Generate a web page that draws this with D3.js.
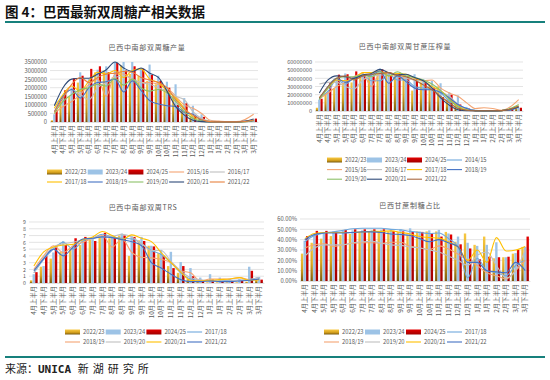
<!DOCTYPE html>
<html><head><meta charset="utf-8">
<script src="https://cdn.jsdelivr.net/npm/d3@7"></script>
<style>
body{margin:0;background:#fff}
svg{display:block}
text{font-family:"Noto Sans CJK SC","Noto Sans",sans-serif}
</style>
</head><body>
<svg id="c" width="550" height="380"></svg>
<script>
// ---------- categories ----------
const categories = ["4月上半月","4月下半月","5月上半月","5月下半月","6月上半月","6月下半月","7月上半月","7月下半月","8月上半月","8月下半月","9月上半月","9月下半月","10月上半月","10月下半月","11月上半月","11月下半月","12月上半月","12月下半月","1月上半月","1月下半月","2月上半月","2月下半月","3月上半月","3月下半月"];

// ---------- Panel 1: 巴西中南部双周糖产量 (吨) ----------
const sugar_2022_23 = [100000,1200000,1500000,2300000,2000000,2900000,3000000,2600000,3300000,2800000,2700000,2400000,2200000,1900000,1600000,800000,350000,100000,30000,20000,10000,10000,30000,120000];
const sugar_2023_24 = [450000,1500000,2000000,2900000,2500000,3050000,3250000,3500000,3500000,3500000,3150000,3350000,2700000,2350000,2200000,1400000,950000,450000,50000,20000,10000,10000,50000,150000];
const sugar_2024_25 = [700000,1850000,2550000,2700000,3100000,3250000,2900000,3450000,3000000,3250000,3100000,2750000,2400000,2000000,1000000,1100000,350000,300000,20000,10000,10000,10000,30000,200000];
const sugar_2015_16 = [500000,900000,1200000,1600000,2200000,2500000,1500000,2800000,2800000,2500000,2300000,2300000,2200000,2000000,1500000,1000000,800000,500000,100000,50000,20000,20000,150000,450000];
const sugar_2016_17 = [1000000,1500000,1900000,1600000,1300000,2000000,2300000,2600000,2700000,2500000,2300000,2200000,2000000,1800000,1500000,1300000,600000,200000,50000,20000,10000,10000,30000,100000];
const sugar_2017_18 = [800000,1600000,2100000,1800000,2400000,2900000,2800000,3000000,2600000,3000000,3100000,2500000,2300000,1800000,1400000,800000,300000,100000,20000,10000,10000,10000,20000,80000];
const sugar_2018_19 = [600000,1500000,1900000,1400000,2000000,2300000,2350000,2500000,1750000,2400000,1850000,1250000,1050000,950000,900000,550000,450000,100000,20000,10000,10000,10000,20000,80000];
const sugar_2019_20 = [500000,1200000,1600000,1900000,2000000,2200000,2100000,2550000,2150000,2500000,2000000,1800000,1900000,1700000,1200000,600000,200000,50000,10000,10000,10000,10000,20000,100000];
const sugar_2020_21 = [950000,2000000,2500000,2550000,2550000,2800000,3050000,3500000,3150000,2950000,3150000,2850000,2600000,1800000,900000,400000,100000,20000,10000,10000,10000,10000,50000,180000];
const sugar_2021_22 = [600000,1400000,2200000,2600000,2300000,2600000,2800000,2850000,2950000,2900000,2600000,2450000,2300000,2000000,1300000,750000,400000,150000,20000,10000,10000,10000,30000,120000];
const sugarTicks = [0,500000,1000000,1500000,2000000,2500000,3000000,3500000];

// ---------- Panel 2: 巴西中南部双周甘蔗压榨量 (吨) ----------
const cane_2022_23 = [4000000,22000000,28000000,33000000,35000000,44000000,45000000,46000000,49000000,46000000,44000000,25000000,35000000,31000000,30000000,14000000,8000000,2000000,500000,300000,300000,500000,2000000,6000000];
const cane_2023_24 = [14000000,25000000,38000000,46000000,40000000,47000000,46000000,52000000,47000000,47000000,42000000,45000000,39000000,37000000,34000000,23000000,19000000,5000000,1000000,500000,300000,500000,2000000,4000000];
const cane_2024_25 = [15000000,34000000,44500000,45000000,48500000,44000000,43000000,51000000,44000000,46000000,43000000,40000000,35000000,28000000,17000000,20000000,8000000,3000000,500000,300000,300000,500000,1500000,4000000];
const cane_2014_15 = [16000000,24000000,38000000,33000000,41000000,44000000,37000000,37000000,45000000,38000000,38000000,30000000,28000000,26000000,22000000,12000000,7000000,3000000,1000000,500000,300000,500000,2000000,5000000];
const cane_2015_16 = [15000000,22000000,30000000,35000000,42000000,46000000,30000000,46000000,47000000,43000000,40000000,38000000,37000000,38000000,28000000,22000000,18000000,10000000,3000000,4000000,3000000,1000000,5000000,14000000];
const cane_2016_17 = [33000000,35000000,35000000,30000000,27000000,38000000,42000000,44000000,44000000,42000000,40000000,38000000,36000000,30000000,24000000,18000000,8000000,2000000,500000,300000,300000,500000,2000000,5000000];
const cane_2017_18 = [16000000,28000000,38000000,37000000,39000000,47000000,47000000,49000000,43000000,46000000,45000000,40000000,37000000,30000000,25000000,15000000,6000000,1500000,500000,300000,300000,500000,2000000,6000000];
const cane_2018_19 = [15000000,30000000,40000000,35000000,40000000,43000000,44000000,49000000,34000000,43000000,36000000,28000000,26000000,26000000,23000000,16000000,8000000,3000000,500000,300000,300000,500000,1000000,5000000];
const cane_2019_20 = [14000000,28000000,40000000,42000000,42000000,44000000,42000000,48000000,43000000,48000000,43000000,41000000,38000000,33000000,25000000,14000000,5000000,1000000,500000,300000,300000,500000,3000000,8000000];
const cane_2020_21 = [22000000,38000000,43000000,42000000,40000000,44000000,46000000,51000000,47000000,44000000,45000000,41000000,37000000,28000000,16000000,7000000,1500000,300000,200000,200000,200000,500000,2000000,5000000];
const cane_2021_22 = [16000000,30000000,40000000,43000000,38000000,43000000,45000000,46000000,47000000,44000000,42000000,38000000,32000000,26000000,18000000,10000000,3000000,1000000,300000,300000,300000,500000,2000000,6000000];
const caneTicks = [0,10000000,20000000,30000000,40000000,50000000,60000000];

// ---------- Panel 3: 巴西中南部双周TRS ----------
const trs_2022_23 = [0.4,2.4,3.6,4.6,5.0,5.6,6.4,6.8,6.6,7.0,4.0,6.3,5.5,4.4,2.5,1.5,0.6,0.2,0.1,0.1,0.1,0.1,0.2,0.6];
const trs_2023_24 = [1.3,2.5,4.5,6.2,5.5,6.5,6.5,7.0,7.0,7.3,6.9,6.8,5.5,4.9,4.6,3.1,2.2,0.8,1.3,0.8,0.6,0.6,2.4,0.9];
const trs_2024_25 = [1.6,4.0,5.5,5.6,6.6,6.8,6.2,7.4,6.7,7.0,6.8,6.2,5.4,4.0,2.2,2.5,1.0,0.3,0.5,0.3,0.4,0.4,1.8,0.5];
const trs_2017_18 = [1.5,3.5,5.0,6.0,5.0,6.2,6.6,7.2,6.8,6.6,6.5,5.8,4.8,4.2,3.0,1.5,0.6,0.4,0.3,0.3,0.4,0.4,0.5,0.8];
const trs_2018_19 = [2.0,4.0,5.5,4.5,5.5,6.0,6.6,7.0,5.3,6.5,4.5,3.8,3.7,3.5,3.0,1.8,1.5,0.3,0.6,0.6,0.6,0.8,0.5,0.5];
const trs_2019_20 = [1.5,3.8,5.3,5.8,6.0,6.4,6.6,6.9,6.9,7.2,6.8,5.8,4.8,4.8,3.2,1.8,0.8,0.5,0.3,0.3,0.3,0.4,0.5,0.8];
const trs_2020_21 = [2.5,4.6,5.3,5.6,5.7,6.4,6.8,7.6,7.0,6.4,7.1,6.6,6.1,4.5,3.0,1.6,0.4,0.3,0.4,0.5,0.6,0.8,0.4,0.5];
const trs_2021_22 = [1.8,3.6,5.0,4.0,5.3,6.5,6.6,6.8,6.7,6.4,6.1,5.5,3.0,2.2,1.3,0.5,0.2,0.2,0.3,0.2,0.2,0.3,0.4,0.6];
const trsTicks = [0,1,2,3,4,5,6,7,8,9];

// ---------- Panel 4: 巴西甘蔗制糖占比 ----------
const mix_2022_23 = [0.265,0.37,0.41,0.435,0.445,0.455,0.47,0.475,0.48,0.48,0.475,0.45,0.48,0.48,0.48,0.475,0.38,0.46,0.35,0.43,0.22,0.23,0.265,0.33];
const mix_2023_24 = [0.39,0.45,0.47,0.48,0.485,0.49,0.49,0.49,0.495,0.50,0.50,0.51,0.48,0.49,0.495,0.46,0.43,0.37,0.34,0.35,0.375,0.23,0.27,0.33];
const mix_2024_25 = [0.435,0.485,0.485,0.48,0.495,0.50,0.50,0.50,0.50,0.485,0.48,0.475,0.475,0.46,0.43,0.45,0.355,0.315,0.21,0.235,0.23,0.235,0.30,0.43];
const mix_2017_18 = [0.38,0.44,0.465,0.475,0.49,0.505,0.51,0.51,0.51,0.50,0.495,0.48,0.47,0.46,0.465,0.41,0.33,0.03,0.22,0.10,0.08,0.05,0.15,0.20];
const mix_2018_19 = [0.32,0.35,0.36,0.335,0.35,0.365,0.37,0.37,0.365,0.375,0.375,0.335,0.32,0.305,0.34,0.31,0.26,0.20,0.15,0.08,0.05,0.02,0.10,0.20];
const mix_2019_20 = [0.24,0.32,0.35,0.35,0.35,0.37,0.38,0.385,0.365,0.35,0.345,0.33,0.32,0.30,0.28,0.24,0.20,0.15,0.25,0.28,0.15,0.03,0.10,0.30];
const mix_2020_21 = [0.41,0.46,0.47,0.47,0.47,0.47,0.475,0.48,0.48,0.485,0.47,0.455,0.43,0.42,0.415,0.38,0.33,0.20,0.30,0.18,0.42,0.29,0.30,0.335];
const mix_2021_22 = [0.40,0.45,0.465,0.465,0.465,0.47,0.475,0.475,0.47,0.455,0.45,0.44,0.41,0.38,0.40,0.37,0.33,0.18,0.18,0.10,0.09,0.08,0.18,0.10];
const mixTicks = [0,0.1,0.2,0.3,0.4,0.5,0.6];

// ---------- drawing ----------
const svg = d3.select("#c");
const defs = svg.append("defs");
const gGold = defs.append("linearGradient").attr("id","gold").attr("x1",0).attr("y1",0).attr("x2",0).attr("y2",1);
gGold.append("stop").attr("offset","0%").attr("stop-color","#F7C843");
gGold.append("stop").attr("offset","55%").attr("stop-color","#D9A41E");
gGold.append("stop").attr("offset","100%").attr("stop-color","#7A5A0E");
const gRed = defs.append("linearGradient").attr("id","red").attr("x1",0).attr("y1",0).attr("x2",0).attr("y2",1);
gRed.append("stop").attr("offset","0%").attr("stop-color","#E30000");
gRed.append("stop").attr("offset","100%").attr("stop-color","#A00000");

const TXT = "#595959", GRID = "#D9D9D9";
const C = {gold:"url(#gold)", blue:"#9DC3E6", red:"url(#red)"};

function panel(cfg){
  const g = svg.append("g");
  const x = d3.scaleBand().domain(categories).range([cfg.x0, cfg.x1]).padding(0);
  const y = d3.scaleLinear().domain([0, d3.max(cfg.ticks)]).range([cfg.yb, cfg.yt]);
  g.append("g").selectAll("line").data(cfg.ticks).join("line")
    .attr("x1",cfg.x0).attr("x2",cfg.x1)
    .attr("y1",d=>y(d)).attr("y2",d=>y(d))
    .attr("stroke",GRID).attr("stroke-width",0.7);
  const ya = d3.axisLeft(y).tickValues(cfg.ticks).tickFormat(cfg.fmt).tickSize(0).tickPadding(3);
  const yg = g.append("g").attr("transform",`translate(${cfg.x0},0)`).call(ya);
  yg.select(".domain").remove();
  yg.selectAll("text").attr("fill",TXT).attr("font-size",cfg.yfs||5.8).attr("font-family","'Liberation Sans',sans-serif");
  const xa = d3.axisBottom(x).tickSize(0).tickPadding(0);
  const xg = g.append("g").attr("transform",`translate(0,${cfg.yb})`).call(xa);
  xg.select(".domain").attr("stroke",GRID).attr("stroke-width",0.7);
  xg.selectAll("text").attr("fill",TXT).attr("font-size",6.3)
    .attr("text-anchor","end").attr("dy","0.35em")
    .attr("transform","translate(0,3) rotate(-90)").attr("x",0).attr("y",0);
  const bw = x.bandwidth()*cfg.bf;
  cfg.bars.forEach((s,i)=>{
    g.append("g").selectAll("rect").data(s.data).join("rect")
      .attr("x",(d,k)=>x(categories[k])+x.bandwidth()/2+(i-1.5)*bw)
      .attr("width",bw*0.92)
      .attr("y",d=>y(d)).attr("height",d=>cfg.yb-y(d))
      .attr("fill",s.fill);
  });
  const line = d3.line().x((d,k)=>x(categories[k])+x.bandwidth()/2).y(d=>y(d)).curve(d3.curveMonotoneX);
  cfg.lines.forEach(s=>{
    g.append("path").datum(s.data).attr("d",line).attr("fill","none")
      .attr("stroke",s.color).attr("stroke-width",1.1).attr("stroke-linejoin","round");
  });
  g.append("text").attr("x",cfg.tx).attr("y",cfg.ty).attr("text-anchor","middle")
    .attr("font-size",7).attr("letter-spacing",0.7).attr("fill",TXT).text(cfg.title);
  const items = cfg.bars.map(s=>({name:s.name,type:"bar",c:s.fill})).concat(cfg.lines.map(s=>({name:s.name,type:"line",c:s.color})));
  const lg = g.append("g");
  items.forEach((it,i)=>{
    const col = i%cfg.ncol, row = Math.floor(i/cfg.ncol);
    const lx = cfg.lx + col*cfg.lw, ly = cfg.ly + row*cfg.lh;
    if(it.type==="bar"){
      lg.append("rect").attr("x",lx).attr("y",ly-2.5).attr("width",15).attr("height",5).attr("fill",it.c);
    } else {
      lg.append("line").attr("x1",lx).attr("x2",lx+15).attr("y1",ly).attr("y2",ly).attr("stroke",it.c).attr("stroke-width",1.1);
    }
    lg.append("text").attr("x",lx+18).attr("y",ly).attr("dy","0.35em").attr("font-size",5.8)
      .attr("font-family","'Liberation Serif',serif").attr("fill",TXT).text(it.name);
  });
}

const fmtInt = d3.format("d");
panel({title:"巴西中南部双周糖产量", tx:147, ty:50, x0:50, x1:258, yt:62, yb:122, ticks:sugarTicks, fmt:fmtInt, bf:0.27,
  bars:[{name:"2022/23",data:sugar_2022_23,fill:C.gold},{name:"2023/24",data:sugar_2023_24,fill:C.blue},{name:"2024/25",data:sugar_2024_25,fill:C.red}],
  lines:[{name:"2015/16",data:sugar_2015_16,color:"#F4A573"},{name:"2016/17",data:sugar_2016_17,color:"#BFBFBF"},
         {name:"2017/18",data:sugar_2017_18,color:"#FFC000"},{name:"2018/19",data:sugar_2018_19,color:"#4472C4"},
         {name:"2019/20",data:sugar_2019_20,color:"#8CC168"},{name:"2020/21",data:sugar_2020_21,color:"#2E4A78"},
         {name:"2021/22",data:sugar_2021_22,color:"#E8823F"}],
  ncol:5, lx:47, ly:172, lw:40.7, lh:10});

panel({title:"巴西中南部双周甘蔗压榨量", tx:405, ty:49, x0:315, x1:523, yt:62, yb:111, ticks:caneTicks, fmt:fmtInt, bf:0.27, yfs:5.6,
  bars:[{name:"2022/23",data:cane_2022_23,fill:C.gold},{name:"2023/24",data:cane_2023_24,fill:C.blue},{name:"2024/25",data:cane_2024_25,fill:C.red}],
  lines:[{name:"2014/15",data:cane_2014_15,color:"#6FA8DC"},{name:"2015/16",data:cane_2015_16,color:"#F4A573"},
         {name:"2016/17",data:cane_2016_17,color:"#BFBFBF"},{name:"2017/18",data:cane_2017_18,color:"#FFC000"},
         {name:"2018/19",data:cane_2018_19,color:"#4472C4"},{name:"2019/20",data:cane_2019_20,color:"#8CC168"},
         {name:"2020/21",data:cane_2020_21,color:"#2E4A78"},{name:"2021/22",data:cane_2021_22,color:"#A8693F"}],
  ncol:4, lx:327, ly:160, lw:40, lh:9.6});

panel({title:"巴西中南部双周TRS", tx:143, ty:210, x0:29, x1:264, yt:222, yb:283, ticks:trsTicks, fmt:d3.format("d"), bf:0.27, yfs:5.2,
  bars:[{name:"2022/23",data:trs_2022_23,fill:C.gold},{name:"2023/24",data:trs_2023_24,fill:C.blue},{name:"2024/25",data:trs_2024_25,fill:C.red}],
  lines:[{name:"2017/18",data:trs_2017_18,color:"#6FA8DC"},{name:"2018/19",data:trs_2018_19,color:"#F4A573"},
         {name:"2019/20",data:trs_2019_20,color:"#BFBFBF"},{name:"2020/21",data:trs_2020_21,color:"#FFC000"},
         {name:"2021/22",data:trs_2021_22,color:"#4472C4"}],
  ncol:4, lx:65, ly:332, lw:40.7, lh:10});

panel({title:"巴西甘蔗制糖占比", tx:410, ty:208, x0:300, x1:530, yt:219, yb:281, ticks:mixTicks, fmt:d3.format(".2%"), bf:0.27,
  bars:[{name:"2022/23",data:mix_2022_23,fill:C.gold},{name:"2023/24",data:mix_2023_24,fill:C.blue},{name:"2024/25",data:mix_2024_25,fill:C.red}],
  lines:[{name:"2017/18",data:mix_2017_18,color:"#6FA8DC"},{name:"2018/19",data:mix_2018_19,color:"#F4A573"},
         {name:"2019/20",data:mix_2019_20,color:"#BFBFBF"},{name:"2020/21",data:mix_2020_21,color:"#FFC000"},
         {name:"2021/22",data:mix_2021_22,color:"#4472C4"}],
  ncol:4, lx:324, ly:332, lw:41, lh:10});

svg.append("text").attr("x",5).attr("y",17).attr("font-size",13.5).attr("font-weight",700).attr("fill","#111")
  .text("图 4：巴西最新双周糖产相关数据");
svg.append("line").attr("x1",5).attr("x2",545).attr("y1",22).attr("y2",22).attr("stroke","#17807C").attr("stroke-width",2);
svg.append("line").attr("x1",5).attr("x2",545).attr("y1",357).attr("y2",357).attr("stroke","#17807C").attr("stroke-width",2);
const src = svg.append("text").attr("x",5).attr("y",373).attr("font-size",11).attr("fill","#222");
src.append("tspan").text("来源：");
src.append("tspan").attr("font-family","'DejaVu Sans Mono',monospace").attr("font-weight",700).text("UNICA ");
src.append("tspan").attr("letter-spacing",4).text("新湖研究所");
</script>
</body></html>
